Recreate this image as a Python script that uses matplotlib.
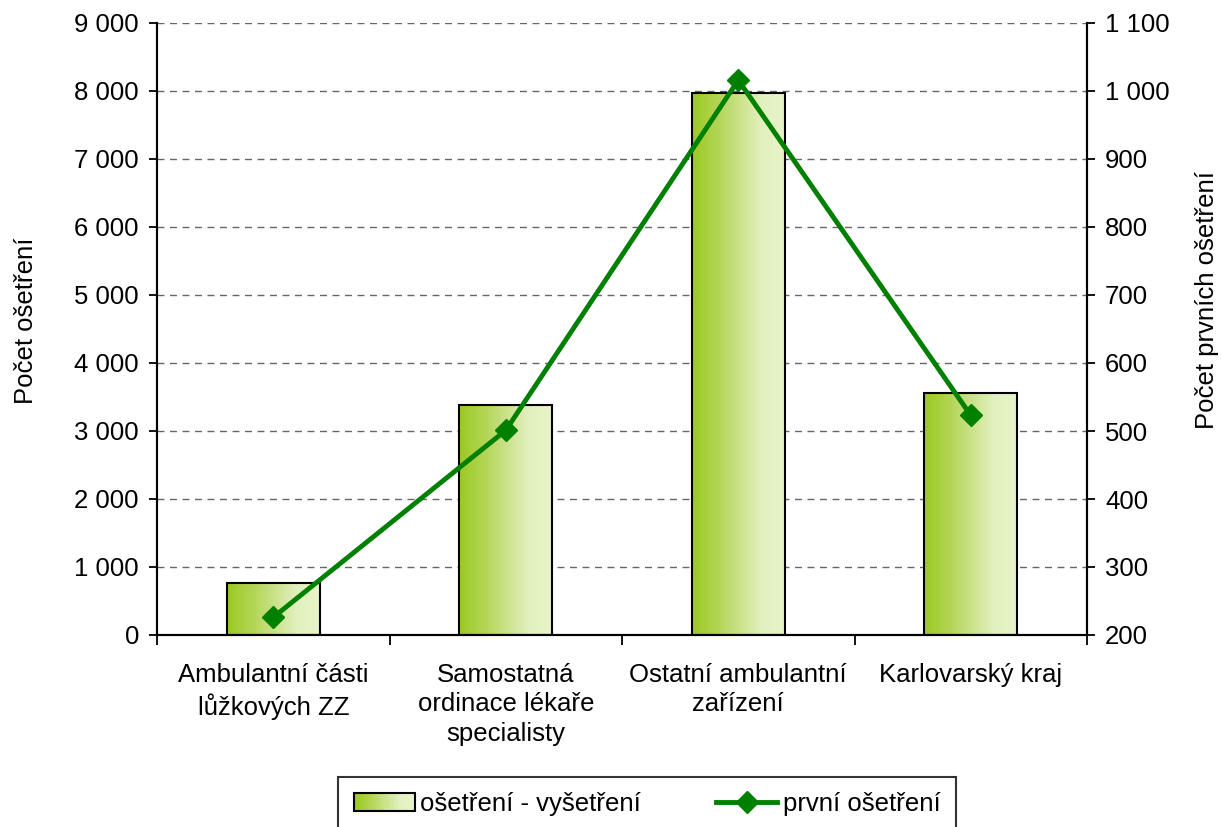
import numpy as np
import matplotlib.pyplot as plt
from matplotlib.colors import LinearSegmentedColormap
from matplotlib.patches import Rectangle
from matplotlib.lines import Line2D
from matplotlib.legend_handler import HandlerBase
from matplotlib.ticker import FuncFormatter, MultipleLocator

plt.rcParams['font.family'] = ['Liberation Sans', 'DejaVu Sans']

categories = ["Ambulantní části\nlůžkových ZZ", "Samostatná\nordinace lékaře\nspecialisty",
              "Ostatní ambulantní\nzařízení", "Karlovarský kraj"]
osetreni = [770, 3380, 7970, 3560]
prvni = [226, 501, 1016, 523]

FS = 18.5
GREEN = "#008000"

cmap = LinearSegmentedColormap.from_list(
    "g", [(0, "#9bc922"), (0.3, "#b5d65a"), (0.75, "#e2f0bf"), (1, "#e8f4c8")])


class GradientHandler(HandlerBase):
    # legend key: a box filled with the same left-to-right gradient
    def create_artists(self, legend, orig, xd, yd, w, h, fontsize, trans):
        arts = []
        n = 30
        for i in range(n):
            r = Rectangle((xd + w * i / n, yd), w / n + 0.3, h, facecolor=cmap(i / (n - 1)),
                          edgecolor="none", transform=trans)
            arts.append(r)
        arts.append(Rectangle((xd, yd), w, h, facecolor="none", edgecolor="black",
                              linewidth=1.5, transform=trans))
        return arts


fig = plt.figure(figsize=(12.22, 8.27), dpi=100)
ax = fig.add_axes([157 / 1222, 1 - 635 / 827, 930 / 1222, 612 / 827])
ax2 = ax.twinx()

grad = np.linspace(0, 1, 256).reshape(1, -1)
x = np.arange(len(categories))
width = 0.4
bars = ax.bar(x, osetreni, width, facecolor="none", edgecolor="black", linewidth=1.5, zorder=3)
for b in bars:
    x0, y0 = b.get_x(), b.get_y()
    im = ax.imshow(grad, cmap=cmap, aspect="auto", zorder=2,
                   extent=[x0, x0 + b.get_width(), y0, y0 + b.get_height()])
    im.set_clip_path(b)

ax.set_xlim(-0.5, 3.5)
ax.set_ylim(0, 9000)
ax.yaxis.set_major_locator(MultipleLocator(1000))
fmt = FuncFormatter(lambda v, p: f"{int(v):,}".replace(",", " "))
ax.yaxis.set_major_formatter(fmt)
ax.grid(axis="y", linestyle=(0, (5, 4)), color="#666666", linewidth=1)
ax.set_axisbelow(True)

ax.set_xticks(x)
ax.set_xticklabels(categories, fontsize=FS, linespacing=1.3)
ax.set_xticks(np.arange(-0.5, 4, 1), minor=True)
ax.tick_params(axis="x", which="major", length=0, pad=20)
ax.tick_params(axis="x", which="minor", length=7, width=1.3, direction="out")
ax.tick_params(axis="y", labelsize=FS, length=6, width=1.3, direction="out", pad=7)

ax2.plot(x, prvni, color=GREEN, linewidth=3.5, marker="D", markersize=11, zorder=5)
ax2.set_ylim(200, 1100)
ax2.yaxis.set_major_locator(MultipleLocator(100))
ax2.yaxis.set_major_formatter(fmt)
ax2.tick_params(axis="y", labelsize=FS, length=6, width=1.3, direction="out", pad=7)

for a in (ax, ax2):
    a.spines["top"].set_visible(False)
    for s in ("left", "right", "bottom"):
        a.spines[s].set_linewidth(1.5)

ax.set_ylabel("Počet ošetření", fontsize=FS)
ax.yaxis.set_label_coords(-0.128, 0.513)
ax2.set_ylabel("Počet prvních ošetření", fontsize=FS, rotation=90)
ax2.yaxis.set_label_coords(1.116, 0.547)

# legend
h1 = Rectangle((0, 0), 1, 1)
h2 = Line2D([], [], color=GREEN, linewidth=3.5, marker="D", markersize=11)
leg = fig.legend([h1, h2], ["ošetření - vyšetření", "první ošetření"], loc="upper center",
                 bbox_to_anchor=(647 / 1222, 1 - 777 / 827), ncol=2, fontsize=FS, frameon=True,
                 fancybox=False, edgecolor="black", handlelength=2.4, handletextpad=0.2,
                 columnspacing=2.9, borderpad=0.6, borderaxespad=0,
                 handler_map={Rectangle: GradientHandler()})
leg.get_frame().set_linewidth(1.5)

fig.savefig("out.png", dpi=100)
